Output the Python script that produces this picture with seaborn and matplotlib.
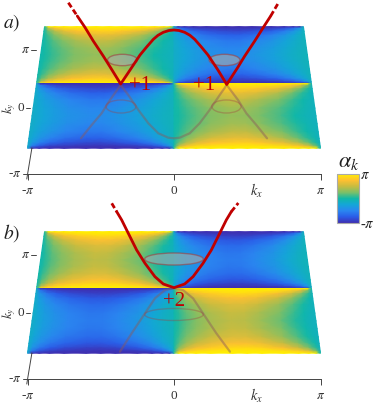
import numpy as np
import seaborn as sns
import matplotlib.pyplot as plt
from matplotlib.cm import ScalarMappable
from matplotlib.colors import Normalize
from matplotlib.patches import Ellipse

sns.set_theme(style="white")
plt.rcParams["font.family"] = ["Liberation Serif", "DejaVu Serif"]
plt.rcParams["mathtext.fontset"] = "stix"

# phase colours, low to high
phase_colors = ["#3F2FB0", "#2A5CE8", "#2A86F0", "#14A6D8", "#10B8A8",
                "#7CBF68", "#C8BC40", "#FFC030", "#FFF000"]

# sample nodes across one quadrant of the plate
u_nodes = [0, .03, .08, .15, .25, .4, .5, .6, .75, .85, .92, .97, 1]
v_nodes = [0, .03, .08, .15, .25, .38, .5]

# phase strength
alpha_a = [
    [.15, 1, 1, 1, 1, 1, 1, 1, 1, 1, 1, 1, .05],
    [.09, .50, .75, .88, .92, .95, .95, .95, .90, .80, .62, .30, .01],
    [.08, .28, .48, .65, .77, .83, .85, .80, .68, .50, .30, .12, .01],
    [.08, .18, .33, .47, .60, .68, .68, .62, .47, .30, .15, .05, 0],
    [.07, .13, .23, .33, .45, .53, .53, .46, .32, .18, .08, .02, 0],
    [.07, .11, .18, .26, .36, .43, .42, .36, .23, .12, .05, .01, 0],
    [.07, .10, .16, .24, .33, .39, .38, .32, .20, .09, .03, 0, 0],
]
alpha_b = [
    [.15, 1, 1, 1, 1, 1, 1, 1, 1, 1, 1, 1, .05],
    [.09, .55, .80, .90, .95, .97, .97, .97, .93, .84, .68, .35, .01],
    [.08, .33, .55, .72, .82, .88, .89, .86, .74, .56, .36, .15, .01],
    [.08, .23, .40, .55, .67, .75, .75, .70, .55, .37, .20, .07, 0],
    [.07, .17, .30, .42, .54, .62, .62, .55, .40, .24, .11, .03, 0],
    [.07, .14, .25, .35, .46, .54, .53, .46, .32, .17, .07, .01, 0],
    [.07, .13, .23, .33, .44, .51, .50, .43, .28, .14, .05, 0, 0],
]

# bands: kx / pi and height over the kx axis
a_upper_kx = [-.66, -.607, -.551, -.483, -.437, -.364, -.3, -.232, -.184, -.141, -.109, -.073, -.034, 0,
              .034, .073, .109, .141, .184, .232, .3, .36, .437, .483, .551, .607, .66]
a_upper_h = [158, 146.5, 133, 118, 107.3, 90, 104, 119, 127.5, 134.7, 138.7, 141.7, 143.5, 144,
             143.5, 141.7, 138.7, 134.7, 127.5, 119, 104, 89.5, 107, 118, 133, 146, 158]
a_tip_l_kx = [-.721, -.66]
a_tip_l_h = [171.3, 158]
a_tip_r_kx = [.66, .712]
a_tip_r_h = [158, 171]
a_lower_kx = [-.635, -.562, -.494, -.437, -.364, -.312, -.243, -.175, -.107, -.039, 0,
              .039, .107, .175, .243, .312, .36, .437, .494, .562, .635]
a_lower_h = [35.7, 49, 60.7, 74, 89, 79, 64, 50.7, 40.7, 36.3, 35.7,
             36.3, 40.7, 50.7, 64, 79, 89, 74, 60.7, 49, 35.7]

b_upper_kx = [-.391, -.357, -.312, -.255, -.198, -.13, -.073, 0, .073, .13, .198, .255, .312, .357, .391]
b_upper_h = [167.3, 159, 145.7, 129, 115.7, 102.3, 95, 91.3, 95, 102.3, 115.7, 129, 145.7, 159, 167.3]
b_tip_l_kx = [-.425, -.391]
b_tip_l_h = [175.7, 167.3]
b_tip_r_kx = [.391, .439]
b_tip_r_h = [167.3, 176]
b_lower_kx = [-.369, -.289, -.198, -.13, -.061, 0, .061, .13, .198, .289, .382]
b_lower_h = [27.3, 45.7, 65.7, 80.7, 89, 90.7, 89, 80.7, 65.7, 45.7, 27.3]

# rings: kx / pi, height, width, tall
a_rings = [[-.352, 114, .202, 11.4], [.345, 114, .21, 11.4], [-.362, 67.5, .205, 13], [.358, 67.5, .2, 13]]
b_rings = [[0, 120, .40, 12], [0, 64.5, .40, 12]]

ky_tick_labels = ["-$\\pi$", "0", "$\\pi$"]
ky_tick_h = [0, 66, 124]
ky_tick_kx = [-1.0, -.98, -.945]
kx_ticks = [-1, 0, 1]
kx_tick_labels = ["-$\\pi$", "0", "$\\pi$"]

cmap = sns.blend_palette(phase_colors, as_cmap=True)
norm = Normalize(-1, 1)
red = "#C00000"


def half_width(h):
    return (146.5 - (h - 26) * 0.1405) / 146.5


def quadrant(ax, u, v, vals, side, h0, h1):
    uu, vv = np.meshgrid(u, v)
    hh = h0 + (h1 - h0) * vv
    xx = side * (1 - uu) * half_width(hh)
    ax.pcolormesh(xx, hh, vals, cmap=cmap, norm=norm, shading="gouraud", zorder=1)


def draw_plate(ax, table):
    t = np.array(table)
    t = np.vstack([t, t[-2::-1]])
    v = np.array(v_nodes + [1 - x for x in v_nodes[-2::-1]])
    u = np.array(u_nodes)
    pos = -.1 + 1.1 * t
    neg = -.1 - .9 * t
    top, mid, bot = 147.3, 90.5, 25.8
    quadrant(ax, u, v, pos, -1, top, mid)
    quadrant(ax, u, v, neg[:, ::-1], 1, top, mid)
    quadrant(ax, u, v, neg, -1, mid, bot)
    quadrant(ax, u, v, pos[:, ::-1], 1, mid, bot)


def panel(px_top, px_bot, base):
    ax = fig.add_axes([0, 1 - px_bot / 405, 1, (px_bot - px_top) / 405])
    ax.set_xlim(-174 / 146.5, 200 / 146.5)
    ax.set_ylim(base - px_bot, base - px_top)
    ax.patch.set_alpha(0)
    for s in ["top", "right", "left"]:
        ax.spines[s].set_visible(False)
    ax.spines["bottom"].set_position(("data", 0))
    ax.spines["bottom"].set_bounds(-1, 1)
    ax.spines["bottom"].set_color("#444444")
    ax.spines["bottom"].set_linewidth(0.7)
    ax.set_xticks(kx_ticks)
    ax.set_xticklabels(kx_tick_labels, fontsize=9.5, color="#333333")
    ax.tick_params(axis="x", bottom=True, length=4, width=0.7, color="#444444", pad=4)
    ax.set_yticks([])
    sns.lineplot(x=[-1.005, -.97], y=[-5, 26], ax=ax, color="#444444", lw=0.7, legend=False, zorder=2)
    for k, h, lab in zip(ky_tick_kx, ky_tick_h, ky_tick_labels):
        sns.lineplot(x=[k - .03, k], y=[h, h], ax=ax, color="#444444", lw=0.7, legend=False)
        ax.text(k - .04, h, lab, ha="right", va="center", fontsize=9.5, color="#333333")
    ax.text(-1.125, 66, "$k_y$", rotation=90, ha="center", va="center", fontsize=9.5, color="#333333")
    ax.text(.56, -17, "$k_x$", ha="center", va="center", fontsize=10.5, color="#333333")
    return ax


def band(ax, xs, ys, **kw):
    sns.lineplot(x=xs, y=ys, ax=ax, estimator=None, sort=False, legend=False, **kw)


def rings(ax, data):
    for i, (k, h, w, t) in enumerate(data):
        up = i < len(data) / 2
        ax.add_patch(Ellipse((k, h), w, t, fc="#AAAAAA" if up else "none",
                             ec="#A04040", lw=1, alpha=0.6 if up else 0.35, zorder=3))


fig = plt.figure(figsize=(3.74, 4.05), dpi=100)

ax_a = panel(0, 200, 174)
draw_plate(ax_a, alpha_a)
band(ax_a, a_lower_kx, a_lower_h, color="#8A5A5A", lw=1.6, alpha=0.45, zorder=3)
rings(ax_a, a_rings)
band(ax_a, a_upper_kx, a_upper_h, color=red, lw=2, zorder=4)
band(ax_a, a_tip_l_kx, a_tip_l_h, color=red, lw=2, ls=(0, (2, 1)), zorder=4)
band(ax_a, a_tip_r_kx, a_tip_r_h, color=red, lw=2, ls=(0, (2, 1)), zorder=4)
ax_a.text(-.232, 88, "+1", color=red, fontsize=15, ha="center", va="center", zorder=5)
ax_a.text(.205, 88, "+1", color=red, fontsize=15, ha="center", va="center", zorder=5)
ax_a.text(-1.11, 151, "$a)$", fontsize=14, ha="center", va="center", color="#222222")

ax_b = panel(200, 405, 379)
draw_plate(ax_b, alpha_b)
band(ax_b, b_lower_kx, b_lower_h, color="#8A5A5A", lw=1.6, alpha=0.45, zorder=3)
rings(ax_b, b_rings)
band(ax_b, b_upper_kx, b_upper_h, color=red, lw=2, zorder=4)
band(ax_b, b_tip_l_kx, b_tip_l_h, color=red, lw=2, ls=(0, (2, 1)), zorder=4)
band(ax_b, b_tip_r_kx, b_tip_r_h, color=red, lw=2, ls=(0, (2, 1)), zorder=4)
ax_b.text(0, 78, "+2", color=red, fontsize=15, ha="center", va="center", zorder=5)
ax_b.text(-1.11, 146, "$b)$", fontsize=14, ha="center", va="center", color="#222222")

cax = fig.add_axes([337 / 374, 1 - 223 / 405, 22 / 374, 49 / 405])
cb = fig.colorbar(ScalarMappable(norm=norm, cmap=cmap), cax=cax, ticks=[-1, 1])
cb.ax.set_yticklabels(["-$\\pi$", "$\\pi$"], fontsize=10.5, color="#222222")
cb.ax.tick_params(length=0, pad=1)
cb.outline.set_edgecolor("#AAAAAA")
cb.outline.set_linewidth(0.8)
fig.text(349 / 374, 1 - 162 / 405, "$\\alpha_k$", fontsize=16, ha="center", va="center", color="#222222")

fig.savefig("out.png", dpi=100)
